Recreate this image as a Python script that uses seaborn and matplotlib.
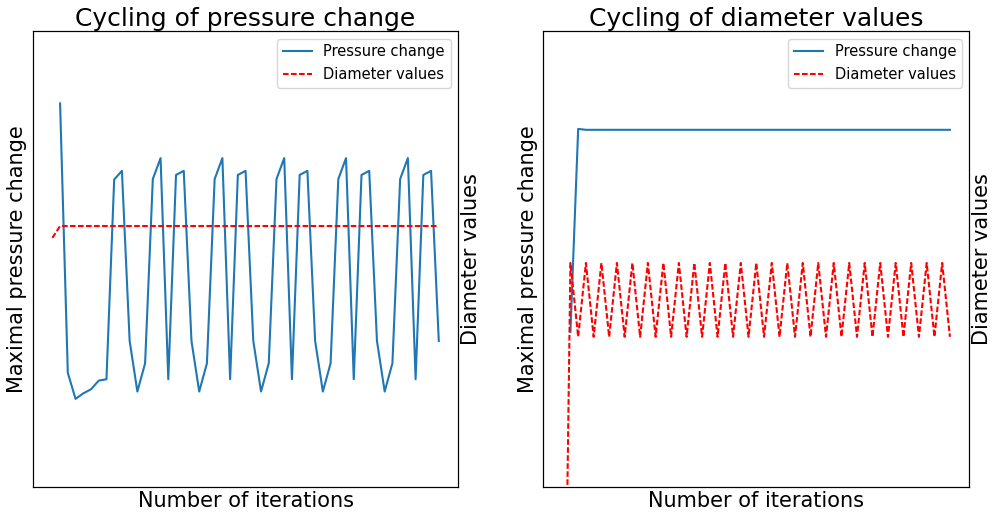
import matplotlib
matplotlib.use("Agg")
import matplotlib.pyplot as plt
import seaborn as sns

# values (fraction of axis height, no ticks shown)
left_pressure = [0.842, 0.251, 0.194, 0.206, 0.215, 0.234, 0.237,
                 0.675, 0.694, 0.321, 0.210, 0.272, 0.676, 0.722, 0.237,
                 0.685, 0.694, 0.321, 0.210, 0.272, 0.676, 0.722, 0.237,
                 0.685, 0.694, 0.321, 0.210, 0.272, 0.676, 0.722, 0.237,
                 0.685, 0.694, 0.321, 0.210, 0.272, 0.676, 0.722, 0.237,
                 0.685, 0.694, 0.321, 0.210, 0.272, 0.676, 0.722, 0.237,
                 0.685, 0.694, 0.321]
left_diameter = [0.547,
                 0.573, 0.573, 0.573, 0.573, 0.573, 0.573, 0.573, 0.573, 0.573, 0.573,
                 0.573, 0.573, 0.573, 0.573, 0.573, 0.573, 0.573, 0.573, 0.573, 0.573,
                 0.573, 0.573, 0.573, 0.573, 0.573, 0.573, 0.573, 0.573, 0.573, 0.573,
                 0.573, 0.573, 0.573, 0.573, 0.573, 0.573, 0.573, 0.573, 0.573, 0.573,
                 0.573, 0.573, 0.573, 0.573, 0.573, 0.573, 0.573, 0.573, 0.573, 0.573]

right_pressure = [0.341, 0.786,
                  0.784, 0.784, 0.784, 0.784, 0.784, 0.784, 0.784, 0.784,
                  0.784, 0.784, 0.784, 0.784, 0.784, 0.784, 0.784, 0.784,
                  0.784, 0.784, 0.784, 0.784, 0.784, 0.784, 0.784, 0.784,
                  0.784, 0.784, 0.784, 0.784, 0.784, 0.784, 0.784, 0.784,
                  0.784, 0.784, 0.784, 0.784, 0.784, 0.784, 0.784, 0.784,
                  0.784, 0.784, 0.784, 0.784, 0.784, 0.784, 0.784, 0.784]
right_diameter = [-0.77,
                  0.492, 0.330, 0.492, 0.330, 0.492, 0.330, 0.492, 0.330, 0.492, 0.330,
                  0.492, 0.330, 0.492, 0.330, 0.492, 0.330, 0.492, 0.330, 0.492, 0.330,
                  0.492, 0.330, 0.492, 0.330, 0.492, 0.330, 0.492, 0.330, 0.492, 0.330,
                  0.492, 0.330, 0.492, 0.330, 0.492, 0.330, 0.492, 0.330, 0.492, 0.330,
                  0.492, 0.330, 0.492, 0.330, 0.492, 0.330, 0.492, 0.330, 0.492, 0.330]

# pressure is logged from iteration 1, diameters from iteration 0
pressure_iters = list(range(1, len(left_pressure) + 1))
diameter_iters = list(range(0, len(left_diameter)))

titles = ["Cycling of pressure change", "Cycling of diameter values"]

fig = plt.figure(figsize=(9.92, 5.16), dpi=100)
ax_left = fig.add_axes([0.0333, 0.0556, 0.4285, 0.8837])
ax_right = fig.add_axes([0.5477, 0.0556, 0.4294, 0.8837])

panels = [(ax_left, left_pressure, left_diameter),
          (ax_right, right_pressure, right_diameter)]

for (ax, pressure, diameter), title in zip(panels, titles):
    ax2 = ax.twinx()
    sns.lineplot(x=pressure_iters, y=pressure, ax=ax, color='#1f77b4',
                 linewidth=1.5, label='Pressure change', legend=False)
    sns.lineplot(x=diameter_iters, y=diameter, ax=ax2, color='red',
                 linestyle='--', linewidth=1.5,
                 label='Diameter values', legend=False)
    # finer dash pattern than the default '--'
    ax2.get_lines()[0].set_dashes((2.7, 1.15))

    ax.set_xlim(-2.5, 52.5)
    ax.set_ylim(0, 1)
    ax2.set_ylim(0, 1)
    ax.set_xticks([])
    ax.set_yticks([])
    ax2.set_yticks([])

    ax.set_title(title, fontsize=18, pad=4)
    ax.set_xlabel('Number of iterations', fontsize=15, labelpad=3)
    ax.set_ylabel('Maximal pressure change', fontsize=15)
    ax2.set_ylabel('Diameter values', fontsize=15, labelpad=2)

    lines = ax.get_lines() + ax2.get_lines()
    ax2.legend(lines, [l.get_label() for l in lines], loc='upper right', fontsize=10.5)

plt.savefig('out.png', dpi=100)
plt.close()
